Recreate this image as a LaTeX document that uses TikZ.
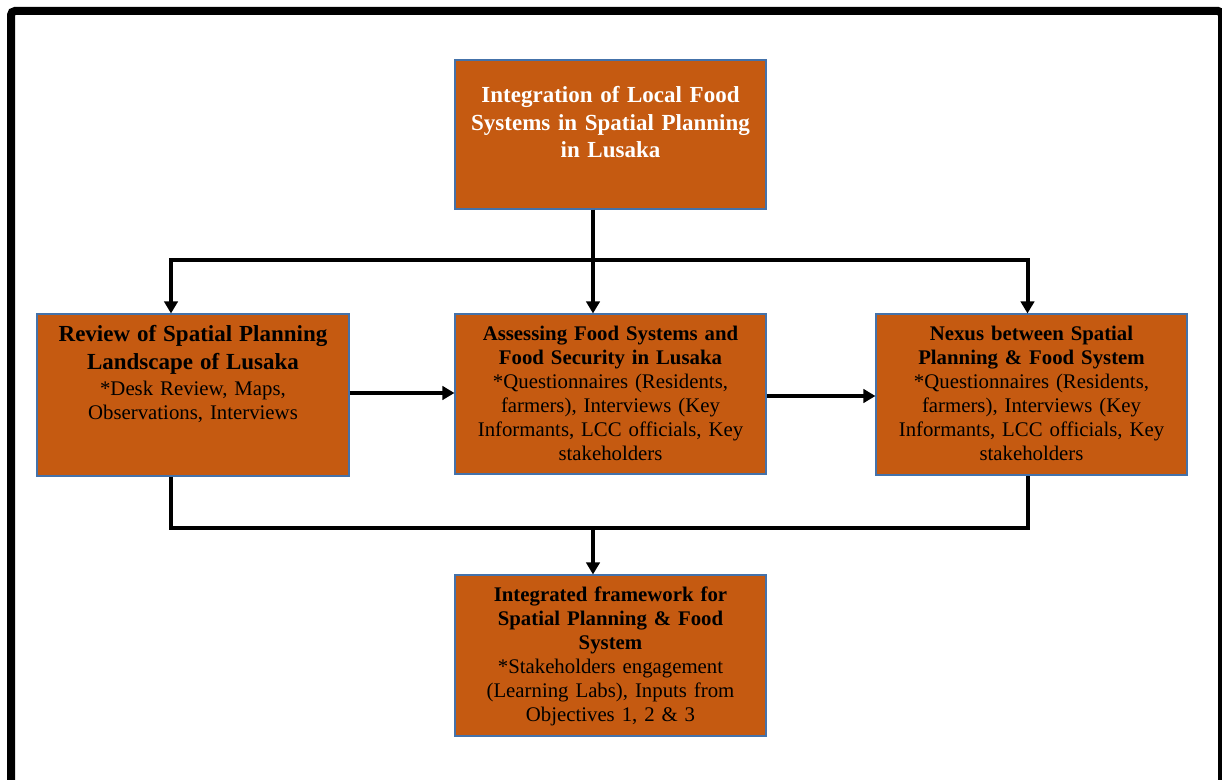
\documentclass[tikz,border=0pt]{standalone}
\usepackage{fontspec}
\setmainfont{Liberation Serif}
\usetikzlibrary{arrows.meta,calc,fit}

\definecolor{boxfill}{RGB}{197,90,17}
\definecolor{boxline}{RGB}{68,114,170}

\newcommand\bigsize{\fontsize{17.25}{20.5}\selectfont}
\newcommand\smallsize{\fontsize{15.6}{18}\selectfont}

\tikzset{
  stagebox/.style={draw=boxline, line width=0.8pt, fill=boxfill, inner sep=0pt},
  boxtext/.style={anchor=north, inner sep=0pt, text width=228pt, align=center, font=\smallsize},
  link/.style={line width=3pt, black},
  arrowlink/.style={link, -{Triangle[length=9pt,width=10pt]}},
}

\begin{document}
\begin{tikzpicture}[x=0.75pt,y=-0.75pt]
  \useasboundingbox (0,0) rectangle (1222,780);
  \clip (0,0) rectangle (1222,780);

  % outer frame
  \draw[line width=6pt, rounded corners=3pt] (11,11) rectangle (1222,800);

  % stage boxes
  \node[stagebox, fit={(455,60) (766,209)}] (top) {};
  \node[stagebox, fit={(37,314) (349,476)}] (left) {};
  \node[stagebox, fit={(455,314) (766,474)}] (mid) {};
  \node[stagebox, fit={(876,314) (1187,475)}] (right) {};
  \node[stagebox, fit={(455,575) (766,736)}] (bottom) {};

  % box texts
  \node[boxtext, text=white, font=\bigsize\bfseries] (toptext) at ($(top.north)+(0,27)$)
    {Integration of Local Food\\Systems in Spatial Planning\\in Lusaka\par};
  \node[boxtext] (lefttext) at ($(left.north)+(0,12)$)
    {{\bigsize\bfseries Review of Spatial Planning\\Landscape of Lusaka\par}
     \vspace{1.5pt}
     *Desk Review, Maps,\\Observations, Interviews\par};
  \node[boxtext] (midtext) at ($(mid.north)+(0,12)$)
    {{\bfseries Assessing Food Systems and\\Food Security in Lusaka\par}
     *Questionnaires (Residents,\\farmers), Interviews (Key\\Informants, LCC officials, Key\\stakeholders\par};
  \node[boxtext] (righttext) at ($(right.north)+(0,12)$)
    {{\bfseries Nexus between Spatial\\Planning \& Food System\par}
     *Questionnaires (Residents,\\farmers), Interviews (Key\\Informants, LCC officials, Key\\stakeholders\par};
  \node[boxtext] (bottomtext) at ($(bottom.north)+(0,12)$)
    {{\bfseries Integrated framework for\\Spatial Planning \& Food\\System\par}
     *Stakeholders engagement\\(Learning Labs), Inputs from\\Objectives 1, 2 \& 3\par};

  % connector guide positions
  \coordinate (xl) at (171,0);
  \coordinate (xc) at (593,0);
  \coordinate (xr) at (1027.5,0);
  \coordinate (ysplit) at (0,260);
  \coordinate (ymerge) at (0,528.5);
  \coordinate (yrow1) at (0,393);
  \coordinate (yrow2) at (0,396);

  % connectors
  \draw[arrowlink] (xc |- top.south) -- (xc |- mid.north);
  \draw[link, {Triangle[length=9pt,width=10pt]}-{Triangle[length=9pt,width=10pt]}]
    (xl |- left.north) -- (xl |- ysplit) -- (xr |- ysplit) -- (xr |- right.north);
  \draw[arrowlink] (left.east |- yrow1) -- (mid.west |- yrow1);
  \draw[arrowlink] (mid.east |- yrow2) -- (right.west |- yrow2);
  \draw[link] (xl |- left.south) -- (xl |- ymerge) -- (xr |- ymerge) -- (xr |- right.south);
  \draw[arrowlink] (xc |- ymerge) -- (xc |- bottom.north);
\end{tikzpicture}
\end{document}
